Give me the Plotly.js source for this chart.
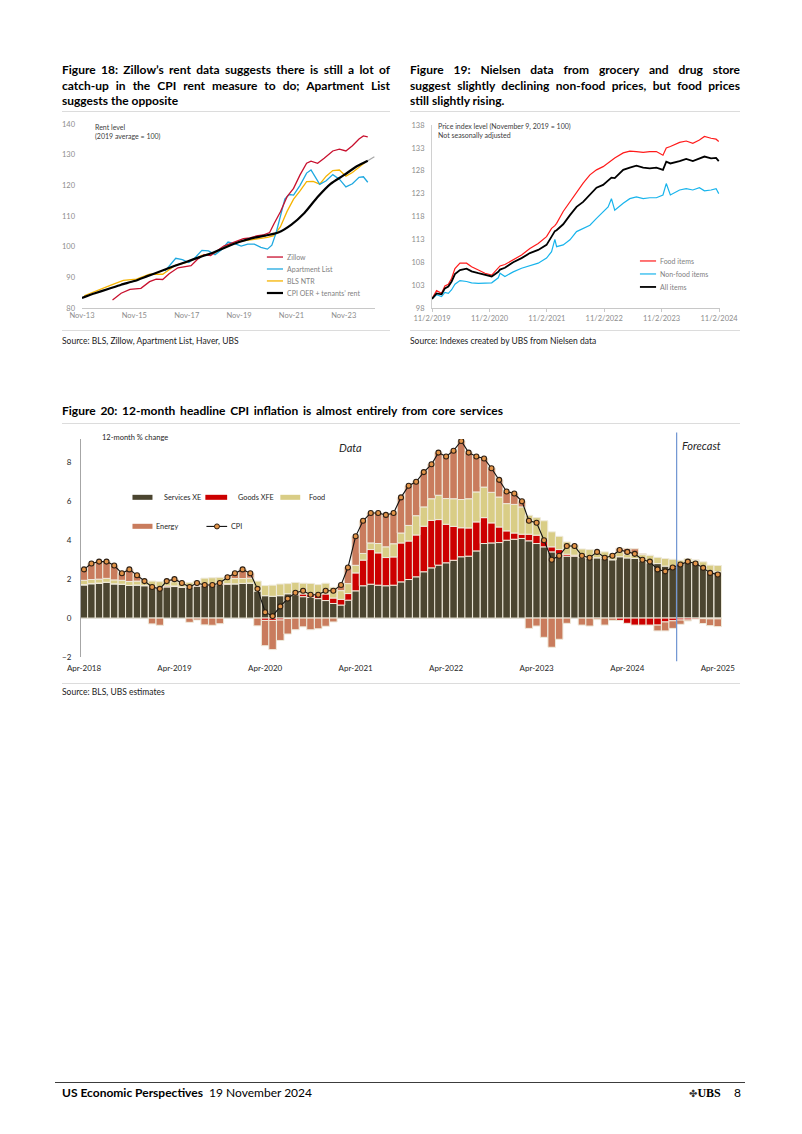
<!DOCTYPE html>
<html>
<head>
<meta charset="utf-8">
<script src="https://cdn.plot.ly/plotly-3.0.1.min.js"></script>
<style>
html,body{margin:0;padding:0;background:#fff;}
#page{position:relative;width:802px;height:1134px;overflow:hidden;font-family:Lato,"Open Sans",sans-serif;color:#000;background:#fff;}
.ttl{position:absolute;font-weight:700;font-size:12px;line-height:15.5px;white-space:nowrap;z-index:3;}
.fit{display:block;white-space:nowrap;}
.fit span,.ttl span{display:inline-block;white-space:nowrap;}
.src{position:absolute;font-size:8.5px;line-height:11px;color:#1a1a1a;white-space:nowrap;z-index:3;}
.rule{position:absolute;height:0;border-top:1px solid #dcdcdc;z-index:3;}
.chart{position:absolute;z-index:2;}
.foot{position:absolute;font-size:12px;line-height:14px;white-space:nowrap;z-index:3;}
</style>
</head>
<body>
<div id="page">
  <div class="ttl" style="left:62px;top:62px;">
    <div class="fit" data-w="328"><span>Figure 18: Zillow’s rent data suggests there is still a lot of</span></div>
    <div class="fit" data-w="328"><span>catch-up in the CPI rent measure to do; Apartment List</span></div>
    <div><span>suggests the opposite</span></div>
  </div>
  <div class="ttl" style="left:410px;top:62px;">
    <div class="fit" data-w="330"><span>Figure 19: Nielsen data from grocery and drug store</span></div>
    <div class="fit" data-w="330"><span>suggest slightly declining non-food prices, but food prices</span></div>
    <div><span>still slightly rising.</span></div>
  </div>
  <div class="rule" style="left:62px;top:111px;width:328px;"></div>
  <div class="rule" style="left:410px;top:111px;width:330px;"></div>
  <div id="fig18" class="chart" style="left:40px;top:110px;width:350px;height:230px;"></div>
  <div id="fig19" class="chart" style="left:392px;top:110px;width:355px;height:230px;"></div>
  <div class="rule" style="left:62px;top:330px;width:328px;"></div>
  <div class="rule" style="left:410px;top:330px;width:330px;"></div>
  <div class="src" style="left:62px;top:335.5px;">Source: BLS, Zillow, Apartment List, Haver, UBS</div>
  <div class="src" style="left:410px;top:335.5px;">Source: Indexes created by UBS from Nielsen data</div>

  <div class="ttl" style="left:62px;top:403px;">
    <div class="fit" data-w="441"><span>Figure 20: 12-month headline CPI inflation is almost entirely from core services</span></div>
  </div>
  <div class="rule" style="left:62px;top:423px;width:678px;"></div>
  <div id="fig20" class="chart" style="left:40px;top:425px;width:710px;height:255px;"></div>
  <div class="rule" style="left:62px;top:683px;width:678px;"></div>
  <div class="src" style="left:62px;top:686.5px;">Source: BLS, UBS estimates</div>

  <div style="position:absolute;left:55px;top:1082px;width:690px;border-top:1px solid #3c3c3c;"></div>
  <div class="foot" style="left:62px;top:1086px;"><b>US Economic Perspectives</b>&nbsp; 19 November 2024</div>
  <div class="foot" style="left:689px;top:1086px;"><span style="font-family:'DejaVu Sans';font-size:10px;color:#333;">✤</span><span style="font-family:'Liberation Serif',serif;font-weight:700;">UBS</span></div>
  <div class="foot" style="left:734px;top:1086px;">8</div>
</div>

<script>
// ---------------- Figure 18 data ----------------
const f18TickVals = ['2013-11-01','2015-11-01','2017-11-01','2019-11-01','2021-11-01','2023-11-01'];
const f18TickText = ['Nov-13','Nov-15','Nov-17','Nov-19','Nov-21','Nov-23'];

const zillowDates = ['2015-01','2015-05','2015-09','2016-02','2016-06','2016-09','2016-12','2017-03','2017-07','2017-10',
  '2018-01','2018-04','2018-07','2018-10','2019-01','2019-04','2019-07','2019-10','2020-01','2020-04','2020-07','2020-10',
  '2021-01','2021-03','2021-06','2021-09','2021-12','2022-03','2022-06','2022-08','2022-11','2023-02','2023-06','2023-09',
  '2023-12','2024-03','2024-06','2024-08','2024-10'];
const zillowVals = [82.6,84.8,86.1,86.4,88.6,89.4,89.3,91.2,93.1,93.4,
  93.8,95.9,97.4,97.1,98.6,100.2,101.0,101.8,102.6,102.9,103.5,103.8,
  104.6,107.4,111.4,116.3,119.0,123.4,127.2,127.9,127.2,128.8,131.2,131.8,
  131.2,132.9,135.1,136.1,135.8];

const aptDates = ['2017-01','2017-04','2017-06','2017-09','2017-12','2018-03','2018-06','2018-09','2018-12','2019-03',
  '2019-06','2019-09','2019-12','2020-03','2020-06','2020-09','2020-12','2021-02','2021-04','2021-06','2021-08',
  '2021-10','2021-12','2022-03','2022-06','2022-08','2022-10','2022-12','2023-03','2023-06','2023-09','2023-12',
  '2024-03','2024-06','2024-08','2024-10'];
const aptVals = [92.0,94.5,96.2,95.8,94.8,96.5,98.8,98.6,97.4,99.0,
  101.5,101.0,100.2,100.8,100.8,99.8,99.2,100.5,104.5,110.0,115.5,
  117.0,116.8,120.0,124.0,125.0,122.8,120.3,121.5,123.5,122.0,119.5,
  120.5,122.6,122.8,121.0];

const ntrDates = ['2013-12','2014-06','2014-12','2015-06','2015-12','2016-06','2016-12','2017-06','2017-12','2018-06',
  '2018-12','2019-06','2019-12','2020-06','2020-12','2021-03','2021-06','2021-09','2021-12','2022-03','2022-06',
  '2022-09','2022-12','2023-03','2023-06','2023-09','2023-12','2024-03','2024-06','2024-09'];
const ntrVals = [84.0,85.8,87.4,89.0,89.4,91.0,91.0,94.0,95.0,97.2,
  98.0,100.5,101.8,102.4,103.0,103.6,106.5,111.5,115.5,118.2,121.2,
  121.3,120.4,123.0,124.8,125.0,123.0,124.2,125.8,127.6];

const cpiRentDates = ['2013-11','2014-05','2014-11','2015-05','2015-11','2016-05','2016-11','2017-05','2017-11','2018-05',
  '2018-11','2019-05','2019-11','2020-05','2020-11','2021-05','2021-11','2022-05','2022-11','2023-05','2023-11',
  '2024-05','2024-10'];
const cpiRentVals = [83.3,84.8,86.2,87.6,88.8,90.4,92.0,93.6,95.1,96.6,
  98.0,99.8,101.5,102.8,103.6,104.6,107.2,111.0,116.2,120.5,123.3,
  126.2,128.0];
const cpiRentExtDates = ['2024-10','2025-01'];
const cpiRentExtVals = [128.0,129.3];

// ---------------- Figure 19 data ----------------
const f19TickVals = ['2019-11-02','2020-11-02','2021-11-02','2022-11-02','2023-11-02','2024-11-02'];
const f19TickText = ['11/2/2019','11/2/2020','11/2/2021','11/2/2022','11/2/2023','11/2/2024'];
const nielsenDates = ['2019-11-02','2019-12-01','2020-01-02','2020-01-23','2020-02-14','2020-03-06','2020-03-27','2020-04-28',
  '2020-06-09','2020-07-11','2020-08-23','2020-10-04','2020-11-16','2020-12-28','2021-01-08','2021-02-08','2021-04-02',
  '2021-05-25','2021-07-17','2021-09-08','2021-10-31','2021-12-02','2021-12-23','2022-01-03','2022-02-14','2022-03-29',
  '2022-05-10','2022-06-21','2022-08-03','2022-09-14','2022-10-26','2022-11-27','2022-12-18','2023-01-08','2023-03-03',
  '2023-04-14','2023-05-26','2023-07-08','2023-08-19','2023-09-30','2023-11-11','2023-12-02','2023-12-28','2024-02-25',
  '2024-04-07','2024-05-19','2024-06-30','2024-08-01','2024-09-12','2024-10-14','2024-10-31'];
const foodItems = [100.0,101.8,101.2,102.8,103.2,104.5,106.6,107.8,107.8,107.0,106.3,105.6,105.2,106.7,107.2,107.5,108.5,
  109.6,111.0,112.1,113.6,115.4,116.0,116.5,119.1,121.2,123.4,125.3,127.1,128.2,128.9,129.8,130.4,130.8,131.9,
  132.3,132.2,132.0,132.2,132.2,131.4,133.0,133.3,134.2,134.5,134.0,134.7,135.5,135.1,134.9,134.4];
const nonFoodItems = [100.0,100.9,100.5,101.4,101.2,102.0,103.2,104.0,103.8,103.5,103.4,103.4,103.5,104.6,105.6,104.9,105.9,
  106.7,107.2,107.8,108.9,110.3,113.0,111.4,111.8,112.9,114.7,115.4,116.1,117.6,119.1,120.1,121.9,119.4,120.9,
  121.9,122.3,121.9,122.1,122.1,122.7,125.2,122.7,123.8,124.1,123.8,124.3,123.6,123.8,124.1,123.0];
const allItems = [100.0,101.2,101.0,102.3,102.7,103.8,105.4,106.3,106.6,106.0,105.6,105.2,104.9,105.9,106.4,106.8,108.0,
  108.9,110.0,110.7,111.8,113.6,114.8,115.0,116.3,118.3,120.1,121.2,122.7,124.3,124.9,125.8,126.5,126.4,128.2,
  128.7,129.1,128.7,128.5,128.7,128.2,130.0,129.6,130.1,130.6,130.1,130.6,131.1,130.7,130.8,130.1];

// ---------------- Figure 20 data ----------------
const months = [
  '2018-04','2018-05','2018-06','2018-07','2018-08','2018-09','2018-10','2018-11','2018-12',
  '2019-01','2019-02','2019-03','2019-04','2019-05','2019-06','2019-07','2019-08','2019-09','2019-10','2019-11','2019-12',
  '2020-01','2020-02','2020-03','2020-04','2020-05','2020-06','2020-07','2020-08','2020-09','2020-10','2020-11','2020-12',
  '2021-01','2021-02','2021-03','2021-04','2021-05','2021-06','2021-07','2021-08','2021-09','2021-10','2021-11','2021-12',
  '2022-01','2022-02','2022-03','2022-04','2022-05','2022-06','2022-07','2022-08','2022-09','2022-10','2022-11','2022-12',
  '2023-01','2023-02','2023-03','2023-04','2023-05','2023-06','2023-07','2023-08','2023-09','2023-10','2023-11','2023-12',
  '2024-01','2024-02','2024-03','2024-04','2024-05','2024-06','2024-07','2024-08','2024-09','2024-10','2024-11','2024-12',
  '2025-01','2025-02','2025-03','2025-04'];
const cpi = [
  2.5,2.8,2.9,2.9,2.7,2.3,2.5,2.2,1.9,
  1.6,1.5,1.9,2.0,1.8,1.6,1.8,1.7,1.7,1.8,2.1,2.3,
  2.5,2.3,1.5,0.3,0.1,0.6,1.0,1.3,1.4,1.2,1.2,1.4,
  1.4,1.7,2.6,4.2,5.0,5.4,5.4,5.3,5.4,6.2,6.8,7.0,
  7.5,7.9,8.5,8.3,8.6,9.1,8.5,8.3,8.2,7.7,7.1,6.5,
  6.4,6.0,5.0,4.9,4.0,3.0,3.2,3.7,3.7,3.2,3.1,3.4,
  3.1,3.2,3.5,3.4,3.3,3.0,2.9,2.5,2.4,2.6,2.75,2.9,
  2.8,2.58,2.32,2.24];
const servicesXE = [
  1.70,1.76,1.78,1.84,1.76,1.74,1.68,1.70,1.66,
  1.58,1.55,1.60,1.62,1.58,1.58,1.64,1.68,1.70,1.72,1.74,1.76,
  1.78,1.80,1.40,1.15,1.12,1.15,1.25,1.20,1.10,1.06,1.00,0.90,
  0.75,0.67,0.92,1.40,1.66,1.74,1.69,1.66,1.69,1.86,1.98,2.12,
  2.38,2.58,2.72,2.84,2.97,3.15,3.18,3.45,3.83,3.86,3.88,4.00,
  4.05,4.09,3.97,3.83,3.66,3.40,3.28,3.18,3.18,3.11,3.06,3.10,
  3.06,3.00,3.15,3.09,3.06,2.94,2.84,2.80,2.67,2.63,2.80,2.89,
  2.84,2.63,2.41,2.38];
const goodsXFE = [
  0.02,0.02,0.02,0.00,0.00,0.00,0.00,0.00,0.02,
  0.05,0.05,0.05,0.03,0.02,0.02,0.03,0.05,0.05,0.05,0.03,0.00,
  0.00,0.00,0.00,-0.12,-0.12,-0.10,-0.02,0.08,0.14,0.17,0.22,0.34,
  0.28,0.29,0.34,0.92,1.32,1.78,1.66,1.45,1.45,2.00,1.98,2.15,
  2.34,2.44,2.34,1.98,1.74,1.49,1.45,1.49,1.33,1.03,0.80,0.48,
  0.32,0.22,0.34,0.43,0.38,0.26,0.24,0.10,0.05,0.00,0.00,0.00,
  0.00,0.00,-0.12,-0.27,-0.36,-0.36,-0.36,-0.36,-0.20,-0.14,-0.10,-0.10,
  -0.05,-0.03,-0.04,-0.04];
const food = [
  0.22,0.20,0.20,0.20,0.20,0.20,0.20,0.20,0.22,
  0.27,0.27,0.25,0.22,0.22,0.22,0.23,0.32,0.32,0.32,0.28,0.27,
  0.25,0.25,0.50,0.52,0.57,0.60,0.52,0.55,0.55,0.55,0.50,0.55,
  0.55,0.45,0.51,0.39,0.34,0.34,0.48,0.55,0.68,0.51,0.80,0.99,
  0.99,1.11,1.25,1.32,1.42,1.45,1.50,1.54,1.57,1.57,1.54,1.40,
  1.47,1.40,0.97,0.90,0.96,0.77,0.68,0.63,0.51,0.44,0.46,0.30,
  0.34,0.30,0.26,0.19,0.20,0.32,0.38,0.32,0.39,0.39,0.17,0.17,
  0.14,0.26,0.31,0.32];
const energy = [
  0.56,0.82,0.90,0.86,0.74,0.36,0.62,0.30,0.00,
  -0.30,-0.37,0.00,0.13,0.00,-0.22,-0.10,-0.35,-0.37,-0.29,0.05,0.27,
  0.47,0.25,-0.40,-1.30,-1.50,-1.05,-0.80,-0.60,-0.45,-0.60,-0.55,-0.42,
  -0.20,0.29,0.83,1.49,1.68,1.54,1.57,1.64,1.58,1.83,2.04,1.77,
  1.79,1.77,2.19,2.16,2.47,3.01,2.37,1.82,1.47,1.24,0.88,0.62,
  0.56,0.29,-0.53,-0.41,-0.99,-1.50,-1.09,-0.27,0.00,-0.36,-0.41,-0.08,
  -0.36,-0.12,0.18,0.30,0.30,0.05,0.00,-0.30,-0.46,-0.39,-0.22,-0.05,
  0.00,-0.25,-0.35,-0.40];
const f20TickVals = ['2018-04-01','2019-04-01','2020-04-01','2021-04-01','2022-04-01','2023-04-01','2024-04-01','2025-04-01'];
const f20TickText = ['Apr-2018','Apr-2019','Apr-2020','Apr-2021','Apr-2022','Apr-2023','Apr-2024','Apr-2025'];
const forecastStart = '2024-10-17';

// ---------------- helpers ----------------
const FONT = 'Lato, "Open Sans", sans-serif';
const cfg = {staticPlot:true, displayModeBar:false};

function legendLine(x0,x1,y,color,width){
  return {type:'line',xref:'paper',yref:'paper',x0:x0,x1:x1,y0:y,y1:y,line:{color:color,width:width}};
}
function legendText(x,y,text,size,color){
  return {xref:'paper',yref:'paper',x:x,y:y,xanchor:'left',yanchor:'middle',text:text,showarrow:false,
          font:{family:FONT,size:size,color:color}};
}

// ---------------- Figure 18 ----------------
const c18 = {zillow:'#c8102e', apt:'#1ea8e0', ntr:'#f5b301', cpi:'#000000'};
Plotly.newPlot('fig18', [
  {type:'scatter',mode:'lines',x:ntrDates,y:ntrVals,line:{color:c18.ntr,width:1.3},hoverinfo:'skip'},
  {type:'scatter',mode:'lines',x:aptDates,y:aptVals,line:{color:c18.apt,width:1.3},hoverinfo:'skip'},
  {type:'scatter',mode:'lines',x:zillowDates,y:zillowVals,line:{color:c18.zillow,width:1.3},hoverinfo:'skip'},
  {type:'scatter',mode:'lines',x:cpiRentExtDates,y:cpiRentExtVals,line:{color:'#a6a6a6',width:1.2},hoverinfo:'skip'},
  {type:'scatter',mode:'lines',x:cpiRentDates,y:cpiRentVals,line:{color:c18.cpi,width:2.2,shape:'spline',smoothing:0.6},hoverinfo:'skip'}
], {
  width:350,height:230,margin:{l:42,r:15,t:14,b:32},
  paper_bgcolor:'rgba(0,0,0,0)',plot_bgcolor:'rgba(0,0,0,0)',showlegend:false,
  font:{family:FONT,size:7.5,color:'#8c8c8c'},
  xaxis:{type:'date',range:['2013-11-01','2025-01-10'],tickvals:f18TickVals,ticktext:f18TickText,
         showgrid:false,zeroline:false,showline:true,linecolor:'#c8c8c8',linewidth:1,ticks:'',
         tickfont:{family:FONT,size:7.5,color:'#8c8c8c'}},
  yaxis:{range:[80,140],tickvals:[80,90,100,110,120,130,140],showgrid:false,zeroline:false,showline:false,
         ticks:'',ticklabelstandoff:6,tickfont:{family:FONT,size:7.5,color:'#8c8c8c'}},
  shapes:[
    legendLine(0.631,0.686,0.277,c18.zillow,1.3),
    legendLine(0.631,0.686,0.212,c18.apt,1.3),
    legendLine(0.631,0.686,0.147,c18.ntr,1.3),
    legendLine(0.631,0.686,0.0815,c18.cpi,2.2)
  ],
  annotations:[
    {xref:'paper',yref:'paper',x:0.0375,y:1.016,xanchor:'left',yanchor:'top',align:'left',showarrow:false,
     text:'Rent level<br>(2019 average = 100)',font:{family:FONT,size:7,color:'#404040'}},
    legendText(0.693,0.277,'Zillow',7,'#7f7f7f'),
    legendText(0.693,0.212,'Apartment List',7,'#7f7f7f'),
    legendText(0.693,0.147,'BLS NTR',7,'#7f7f7f'),
    legendText(0.693,0.0815,'CPI OER + tenants’ rent',7,'#7f7f7f')
  ]
}, cfg);

// ---------------- Figure 19 ----------------
const c19 = {food:'#ff1a1a', nonfood:'#18b4ec', all:'#000000'};
Plotly.newPlot('fig19', [
  {type:'scatter',mode:'lines',x:nielsenDates,y:foodItems,line:{color:c19.food,width:1.2},hoverinfo:'skip'},
  {type:'scatter',mode:'lines',x:nielsenDates,y:nonFoodItems,line:{color:c19.nonfood,width:1.2},hoverinfo:'skip'},
  {type:'scatter',mode:'lines',x:nielsenDates,y:allItems,line:{color:c19.all,width:1.8},hoverinfo:'skip'}
], {
  width:355,height:230,margin:{l:40,r:27,t:15,b:32},
  paper_bgcolor:'rgba(0,0,0,0)',plot_bgcolor:'rgba(0,0,0,0)',showlegend:false,
  font:{family:FONT,size:7.5,color:'#8c8c8c'},
  xaxis:{type:'date',range:['2019-11-02','2024-11-08'],tickvals:f19TickVals,ticktext:f19TickText,
         showgrid:false,zeroline:false,showline:true,linecolor:'#c8c8c8',linewidth:1,ticks:'outside',ticklen:3,
         tickcolor:'#c8c8c8',tickfont:{family:FONT,size:7.5,color:'#8c8c8c'}},
  yaxis:{range:[98,138],tickvals:[98,103,108,113,118,123,128,133,138],showgrid:false,zeroline:false,
         showline:true,linecolor:'#d0d0d0',linewidth:1,ticks:'',ticklabelstandoff:5,
         tickfont:{family:FONT,size:7.5,color:'#8c8c8c'}},
  shapes:[
    legendLine(0.722,0.778,0.257,c19.food,1.2),
    legendLine(0.722,0.778,0.186,c19.nonfood,1.2),
    legendLine(0.722,0.778,0.115,c19.all,1.8)
  ],
  annotations:[
    {xref:'paper',yref:'paper',x:0.014,y:1.025,xanchor:'left',yanchor:'top',align:'left',showarrow:false,
     text:'Price index level (November 9, 2019 = 100)<br>Not seasonally adjusted',font:{family:FONT,size:7,color:'#404040'}},
    legendText(0.783,0.257,'Food items',7,'#7f7f7f'),
    legendText(0.783,0.186,'Non-food items',7,'#7f7f7f'),
    legendText(0.783,0.115,'All items',7,'#7f7f7f')
  ]
}, cfg);

// ---------------- Figure 20 ----------------
const c20 = {svc:'#4b4530', goods:'#cc0000', food:'#d9cd86', energy:'#c97c5d', cpiFill:'#e39448'};
const BARW = 30.4*24*3600*1000;
const barLine = {color:'#efeadb',width:1};
Plotly.newPlot('fig20', [
  {type:'bar',x:months,y:servicesXE,width:BARW,marker:{color:c20.svc,line:barLine},hoverinfo:'skip'},
  {type:'bar',x:months,y:goodsXFE,width:BARW,marker:{color:c20.goods,line:barLine},hoverinfo:'skip'},
  {type:'bar',x:months,y:food,width:BARW,marker:{color:c20.food,line:barLine},hoverinfo:'skip'},
  {type:'bar',x:months,y:energy,width:BARW,marker:{color:c20.energy,line:barLine},hoverinfo:'skip'},
  {type:'scatter',mode:'lines+markers',x:months,y:cpi,line:{color:'#111',width:1.1},
   marker:{symbol:'circle',size:5,color:c20.cpiFill,line:{color:'#2e2014',width:1.1}},hoverinfo:'skip'}
], {
  width:710,height:255,margin:{l:40.5,r:28,t:14,b:23},
  barmode:'relative',bargap:0,
  paper_bgcolor:'rgba(0,0,0,0)',plot_bgcolor:'rgba(0,0,0,0)',showlegend:false,
  font:{family:FONT,size:8,color:'#262626'},
  xaxis:{type:'date',range:['2018-03-20','2025-04-18'],tickvals:f20TickVals,ticktext:f20TickText,
         showgrid:false,zeroline:false,showline:false,ticks:'',ticklabelstandoff:5,
         tickfont:{family:FONT,size:8,color:'#262626'}},
  yaxis:{range:[-2,9.2],tickvals:[-2,0,2,4,6,8],showgrid:false,zeroline:true,zerolinecolor:'#d9d9d9',zerolinewidth:1,
         showline:true,linecolor:'#a6a6a6',linewidth:1,ticks:'',ticklabelstandoff:7,
         tickfont:{family:FONT,size:8,color:'#262626'}},
  shapes:[
    {type:'line',xref:'x',yref:'paper',x0:forecastStart,x1:forecastStart,y0:-0.02,y1:1.03,line:{color:'#6f94d2',width:1.2}},
    {type:'rect',xref:'paper',yref:'paper',x0:0.0803,x1:0.1115,y0:0.721,y1:0.744,fillcolor:c20.svc,line:{width:0}},
    {type:'rect',xref:'paper',yref:'paper',x0:0.194,x1:0.228,y0:0.721,y1:0.744,fillcolor:c20.goods,line:{width:0}},
    {type:'rect',xref:'paper',yref:'paper',x0:0.311,x1:0.342,y0:0.721,y1:0.744,fillcolor:c20.food,line:{width:0}},
    {type:'rect',xref:'paper',yref:'paper',x0:0.0803,x1:0.1115,y0:0.588,y1:0.611,fillcolor:c20.energy,line:{width:0}},
    {type:'line',xref:'paper',yref:'paper',x0:0.1957,x1:0.228,y0:0.599,y1:0.599,line:{color:'#111',width:1.1}},
    {type:'circle',xref:'paper',yref:'paper',x0:0.2082,x1:0.2160,y0:0.5875,y1:0.6105,fillcolor:c20.cpiFill,line:{color:'#2e2014',width:1}}
  ],
  annotations:[
    {xref:'paper',yref:'paper',x:0.029,y:1.009,xanchor:'left',yanchor:'middle',showarrow:false,
     text:'12-month % change',font:{family:FONT,size:7.5,color:'#262626'}},
    {xref:'paper',yref:'paper',x:0.42,y:0.959,xanchor:'center',yanchor:'middle',showarrow:false,
     text:'<i>Data</i>',font:{family:FONT,size:11,color:'#262626'}},
    {xref:'paper',yref:'paper',x:0.968,y:0.972,xanchor:'center',yanchor:'middle',showarrow:false,
     text:'<i>Forecast</i>',font:{family:FONT,size:11,color:'#262626'}},
    legendText(0.127,0.732,'Services XE',7.3,'#262626'),
    legendText(0.2424,0.732,'Goods XFE',7.3,'#262626'),
    legendText(0.353,0.732,'Food',7.3,'#262626'),
    legendText(0.1146,0.599,'Energy',7.3,'#262626'),
    legendText(0.2315,0.599,'CPI',7.3,'#262626')
  ]
}, cfg);

// ---------------- justify title lines ----------------
function fitTitles(){
  document.querySelectorAll('.fit').forEach(function(el){
    const span = el.querySelector('span');
    const target = parseFloat(el.getAttribute('data-w'));
    span.style.wordSpacing = '0px';
    const natural = span.getBoundingClientRect().width;
    const spaces = (span.textContent.match(/ /g) || []).length;
    if (spaces > 0) span.style.wordSpacing = ((target - natural) / spaces) + 'px';
  });
}
if (document.fonts && document.fonts.ready) { document.fonts.ready.then(fitTitles); } else { fitTitles(); }
fitTitles();
</script>
</body>
</html>
